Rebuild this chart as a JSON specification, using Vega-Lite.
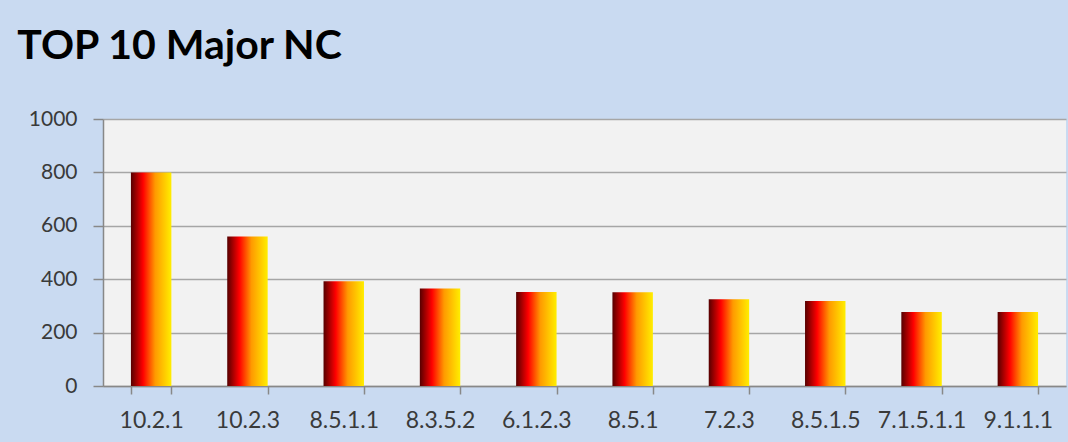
{
  "$schema": "https://vega.github.io/schema/vega-lite/v6.json",
  "width": 963,
  "height": 267,
  "autosize": {"type": "none"},
  "padding": {"left": 103, "top": 119, "right": 2, "bottom": 56},
  "background": "#c9daf1",
  "title": {
    "text": "TOP 10 Major NC",
    "anchor": "start",
    "font": "Lato",
    "fontSize": 41,
    "fontWeight": "bold",
    "color": "#000000",
    "dx": -11,
    "offset": 40
  },
  "data": {
    "values": [
      {"nc": "10.2.1", "count": 800},
      {"nc": "10.2.3", "count": 560},
      {"nc": "8.5.1.1", "count": 392},
      {"nc": "8.3.5.2", "count": 365},
      {"nc": "6.1.2.3", "count": 352},
      {"nc": "8.5.1", "count": 351},
      {"nc": "7.2.3", "count": 325},
      {"nc": "8.5.1.5", "count": 318},
      {"nc": "7.1.5.1.1", "count": 277},
      {"nc": "9.1.1.1", "count": 277}
    ]
  },
  "mark": {
    "type": "bar",
    "color": {
      "gradient": "linear",
      "x1": 0, "y1": 0, "x2": 1, "y2": 0,
      "stops": [
        {"offset": 0, "color": "#560000"},
        {"offset": 0.3, "color": "#ff0000"},
        {"offset": 0.6, "color": "#ff9a00"},
        {"offset": 1, "color": "#ffee00"}
      ]
    }
  },
  "encoding": {
    "x": {
      "field": "nc",
      "type": "nominal",
      "sort": null,
      "title": null,
      "scale": {"paddingInner": 0.58, "paddingOuter": 0.29},
      "axis": {
        "labelAngle": 0,
        "labelFont": "Lato",
        "labelFontSize": 23,
        "labelColor": "#3a3a3a",
        "labelPadding": 15,
        "tickBand": "extent",
        "tickSize": 8,
        "tickColor": "#888888",
        "tickWidth": 1.5,
        "domainColor": "#888888",
        "domainWidth": 1.5,
        "grid": false
      }
    },
    "y": {
      "field": "count",
      "type": "quantitative",
      "title": null,
      "scale": {"domain": [0, 1000]},
      "axis": {
        "values": [0, 200, 400, 600, 800, 1000],
        "format": "d",
        "labelFont": "Lato",
        "labelFontSize": 21,
        "labelColor": "#3a3a3a",
        "labelPadding": 16,
        "tickSize": 10,
        "tickColor": "#888888",
        "tickWidth": 1.5,
        "domainColor": "#888888",
        "domainWidth": 1.5,
        "gridColor": "#a6a6a6",
        "gridWidth": 1.5
      }
    }
  },
  "config": {
    "view": {"fill": "#f2f2f2", "stroke": null}
  }
}
